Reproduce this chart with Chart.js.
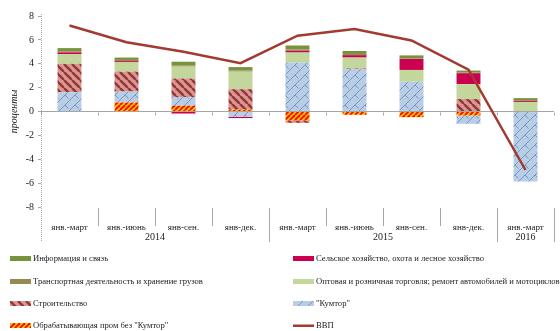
<!DOCTYPE html>
<html>
<head>
<meta charset="utf-8">
<script src="https://cdn.jsdelivr.net/npm/chart.js@4/dist/chart.umd.min.js"></script>
<style>
  body { margin: 0; background: #fff; }
  #wrap { position: relative; width: 560px; height: 331px; }
  #legend { position: absolute; left: 0; top: 0; width: 560px; height: 331px; font-family: "Liberation Serif", serif; font-size: 8.6px; color: #222; }
  .item { position: absolute; display: flex; align-items: center; white-space: nowrap; height: 12px; }
  .item canvas { margin-right: 2px; }
</style>
</head>
<body>
<div id="wrap">
  <canvas id="chart" width="560" height="248"></canvas>
  <div id="legend"></div>
</div>
<script>
var categories = ["янв.-март", "янв.-июнь", "янв-сен.", "янв-дек.", "янв.-март", "янв.-июнь", "янв-сен.", "янв-дек.", "янв.-март"];
var years = ["2014", "2015", "2016"];
var yearSpans = [4, 4, 1];
var yTicks = [-8, 8, 2]; // min, max, step

var manufacturing = [0, 0.75, 0.48, 0.17, -0.75, -0.28, -0.47, -0.33, 0];
var kumtor = [1.62, 0.92, 0.73, -0.45, 4.1, 3.55, 2.5, -0.7, -5.86];
var construction = [2.37, 1.67, 1.55, 1.7, -0.2, 0.05, 0, 1.04, 0];
var trade = [0.81, 0.78, 1.0, 1.47, 0.84, 0.92, 0.98, 1.25, 0.79];
var agriculture = [0.15, 0.1, -0.17, -0.1, 0.15, 0.2, 0.92, 0.92, 0.08];
var transport = [0.1, 0.1, 0.08, 0.1, 0.1, 0.1, 0.05, 0.05, 0.08];
var info = [0.26, 0.2, 0.33, 0.28, 0.34, 0.25, 0.25, 0.17, 0.17];
var gdp = [7.2, 5.8, 5.0, 4.05, 6.35, 6.9, 5.95, 3.5, -4.9];

var serif = "'Liberation Serif', 'Times New Roman', serif";

// small pattern tiles, reused for the bars and the legend swatches
function tile(size, bg, draw) {
  var c = document.createElement("canvas");
  c.width = size; c.height = size;
  var g = c.getContext("2d");
  g.fillStyle = bg;
  g.fillRect(0, 0, size, size);
  draw(g, size);
  return c;
}
var constructionTile = tile(8, "#DA9694", function (g, s) {
  g.strokeStyle = "#943634"; g.lineWidth = 2.4;
  for (var k = -1; k <= 1; k++) {
    g.beginPath(); g.moveTo(k * s, 0); g.lineTo(k * s + s, s); g.stroke();
  }
});
var manufTile = tile(5, "#FFC000", function (g, s) {
  g.strokeStyle = "#FF0000"; g.lineWidth = 1.8;
  for (var k = -1; k <= 1; k++) {
    g.beginPath(); g.moveTo(k * s, s); g.lineTo(k * s + s, 0); g.stroke();
  }
});
var kumtorTile = tile(10, "#B9CDE5", function (g, s) {
  g.strokeStyle = "#6A92C6"; g.lineWidth = 0.9;
  for (var k = -1; k <= 1; k++) {
    g.beginPath(); g.moveTo(k * s, s); g.lineTo(k * s + s, 0); g.stroke();
  }
  g.beginPath(); g.moveTo(5, 5); g.lineTo(8.5, 8.5); g.stroke();
});

var ctx = document.getElementById("chart").getContext("2d");
function pat(t) { return ctx.createPattern(t, "repeat"); }

var decorations = {
  id: "decorations",
  afterDraw: function (chart) {
    var c = chart.ctx, area = chart.chartArea, x = chart.scales.x, y = chart.scales.y;
    var step = x.getPixelForValue(1) - x.getPixelForValue(0);
    var y0 = Math.round(y.getPixelForValue(0)) + 0.5;
    var bounds = [0], idx = 0;
    yearSpans.forEach(function (n) { idx += n; bounds.push(idx); });
    c.save();
    c.strokeStyle = "#a6a6a6";
    c.lineWidth = 1;
    for (var i = 0; i <= categories.length; i++) {
      var px = Math.round(x.getPixelForValue(i) - step / 2) + 0.5;
      var isYear = bounds.indexOf(i) >= 0;
      if (i > 0) {
        c.beginPath(); c.moveTo(px, area.bottom + 1); c.lineTo(px, isYear ? 242 : 226); c.stroke();
      }
      // small ticks under the zero line
      c.beginPath(); c.moveTo(px, y0); c.lineTo(px, y0 + 3); c.stroke();
    }
    // dotted vertical axis
    var ax = Math.round(area.left) + 0.5;
    c.setLineDash([1, 1]);
    c.beginPath(); c.moveTo(ax, area.top - 2); c.lineTo(ax, 242); c.stroke();
    c.setLineDash([]);
    // year labels
    c.fillStyle = "#222";
    c.font = "10px " + serif;
    c.textAlign = "center";
    c.textBaseline = "middle";
    for (var k = 0; k < years.length; k++) {
      var mid = (x.getPixelForValue(bounds[k]) + x.getPixelForValue(bounds[k + 1] - 1)) / 2;
      c.fillText(years[k], mid, 237);
    }
    c.restore();
  }
};

var chart = new Chart(ctx, {
  data: {
    labels: categories,
    datasets: [
      { type: "line", label: "ВВП", data: gdp, borderColor: "#A33A31", borderWidth: 2.5, pointRadius: 0, stack: "gdp", order: 0 },
      { type: "bar", label: "Обрабатывающая пром без \"Кумтор\"", data: manufacturing, backgroundColor: pat(manufTile), order: 1 },
      { type: "bar", label: "\"Кумтор\"", data: kumtor, backgroundColor: pat(kumtorTile), order: 1 },
      { type: "bar", label: "Строительство", data: construction, backgroundColor: pat(constructionTile), order: 1 },
      { type: "bar", label: "Оптовая и розничная торговля; ремонт автомобилей и мотоциклов", data: trade, backgroundColor: "#C3D69B", order: 1 },
      { type: "bar", label: "Сельское хозяйство, охота и лесное хозяйство", data: agriculture, backgroundColor: "#CC0050", order: 1 },
      { type: "bar", label: "Транспортная деятельность и хранение грузов", data: transport, backgroundColor: "#948A54", order: 1 },
      { type: "bar", label: "Информация и связь", data: info, backgroundColor: "#77933C", order: 1 }
    ]
  },
  options: {
    responsive: false,
    animation: false,
    datasets: { bar: { barPercentage: 0.42, categoryPercentage: 1 } },
    layout: { padding: { top: 16, right: 6, left: 0, bottom: 0 } },
    plugins: { legend: { display: false }, tooltip: { enabled: false } },
    scales: {
      x: {
        stacked: true,
        grid: { display: false },
        border: { display: false },
        ticks: { padding: 7, maxRotation: 0, autoSkip: false, color: "#222", font: { family: serif, size: 9 } },
        afterFit: function (s) { s.height = 41; }
      },
      y: {
        stacked: true,
        min: yTicks[0], max: yTicks[1],
        ticks: { stepSize: yTicks[2], padding: 4, color: "#222", font: { family: serif, size: 10 } },
        grid: {
          color: function (c) { return c.tick && c.tick.value === 0 ? "#a6a6a6" : "rgba(0,0,0,0)"; },
          tickColor: "#a6a6a6", tickLength: 3
        },
        border: { display: false },
        title: { display: true, text: "проценты", color: "#222", font: { family: serif, size: 10, style: "italic" }, padding: { top: 8, bottom: 0 } },
        afterFit: function (s) { s.width = 41; }
      }
    }
  },
  plugins: [decorations]
});

// two-column legend under the chart: dataset indexes per row
var legendRows = [[7, 5], [6, 4], [3, 2], [1, 0]];
var rowY = [252, 275, 297, 319];
var colX = [10, 293];
var legend = document.getElementById("legend");
legendRows.forEach(function (row, r) {
  row.forEach(function (di, col) {
    var ds = chart.data.datasets[di];
    var item = document.createElement("div");
    item.className = "item";
    item.style.left = colX[col] + "px";
    item.style.top = rowY[r] + "px";
    var sw = document.createElement("canvas");
    sw.width = 21; sw.height = 5;
    var g = sw.getContext("2d");
    if (ds.type === "line") {
      g.fillStyle = ds.borderColor; g.fillRect(0, 1.5, 21, 2.5);
    } else {
      var t = di === 1 ? manufTile : di === 2 ? kumtorTile : di === 3 ? constructionTile : null;
      g.fillStyle = t ? g.createPattern(t, "repeat") : ds.backgroundColor;
      g.fillRect(0, 0, 21, 5);
    }
    item.appendChild(sw);
    var span = document.createElement("span");
    span.textContent = ds.label;
    item.appendChild(span);
    legend.appendChild(item);
  });
});
</script>
</body>
</html>
